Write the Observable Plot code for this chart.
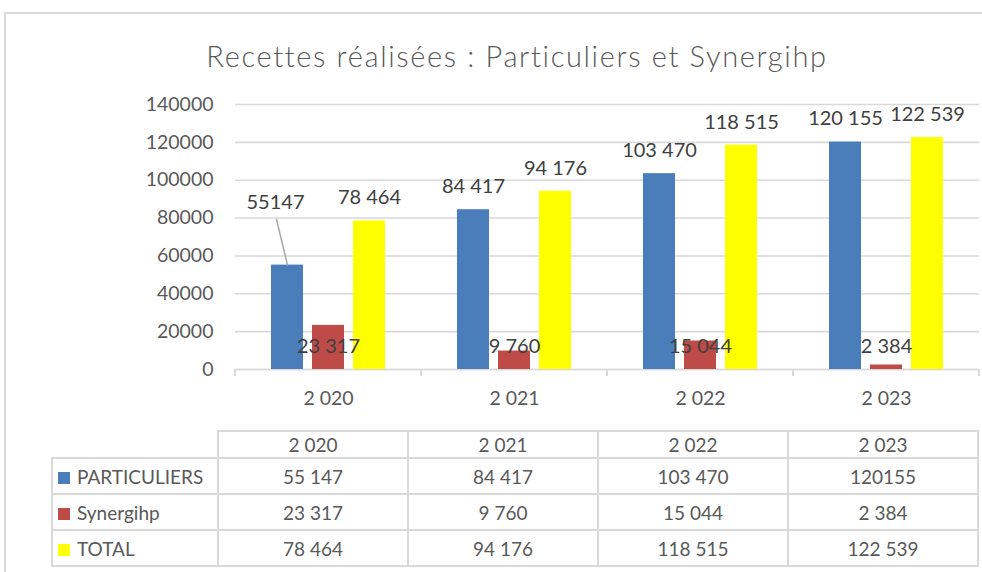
<!DOCTYPE html>
<html>
<head>
<meta charset="utf-8">
<script src="https://cdn.jsdelivr.net/npm/d3@7"></script>
<script src="https://cdn.jsdelivr.net/npm/@observablehq/plot@0.6"></script>
<style>
  html, body { margin: 0; padding: 0; background: #fff; }
  body { width: 982px; height: 572px; position: relative; overflow: hidden; font-family: Lato, "Open Sans", sans-serif; }
  #frame { position: absolute; left: 4px; top: 12px; width: 1000px; height: 600px; border-left: 2px solid #d9d9d9; border-top: 2px solid #d9d9d9; }
  #title { position: absolute; left: 0; top: 41px; width: 1034px; text-align: center; font-size: 29px; line-height: 1; color: #595959; font-weight: 300; letter-spacing: 1.65px; white-space: nowrap; }
  #chart { position: absolute; left: 0; top: 0; }
  #table { position: absolute; left: 51px; top: 430px; border-collapse: collapse; table-layout: fixed; font-size: 19px; color: #595959; }
  #table td { border: 2px solid #d9d9d9; text-align: center; padding: 0; white-space: nowrap; }
  #table td.corner { border: none; }
  #table tr.head td { height: 25px; }
  #table tr.row td { height: 34px; }
  #table td.lab { text-align: left; padding-left: 5px; }
  #table .sw { display: inline-block; width: 12px; height: 12px; margin-right: 7px; vertical-align: 0px; }
</style>
</head>
<body>
<div id="frame"></div>
<div id="title">Recettes réalisées : Particuliers et Synergihp</div>
<div id="chart"></div>
<table id="table"></table>
<script>
// ---- data ----
const years = ["2 020", "2 021", "2 022", "2 023"];
const seriesNames = ["PARTICULIERS", "Synergihp", "TOTAL"];
const seriesColors = ["#4a7ebb", "#be4b48", "#ffff00"];
const particuliers = [55147, 84417, 103470, 120155];
const synergihp = [23317, 9760, 15044, 2384];
const total = [78464, 94176, 118515, 122539];
const particuliersChartLabels = ["55147", "84 417", "103 470", "120 155"];
const particuliersTableLabels = ["55 147", "84 417", "103 470", "120155"];
const yTicks = [0, 20000, 40000, 60000, 80000, 100000, 120000, 140000];

const frFmt = d3.formatLocale({decimal: ",", thousands: "\u2009", grouping: [3], currency: ["", " €"]}).format(",d");
const fr = v => frFmt(v).replace(/\u2009/g, " ");

const valuesBySeries = [particuliers, synergihp, total];
const chartLabelsBySeries = [particuliersChartLabels, synergihp.map(fr), total.map(fr)];
const tableLabelsBySeries = [particuliersTableLabels, synergihp.map(fr), total.map(fr)];

const rows = [];
years.forEach((yr, i) => {
  seriesNames.forEach((s, j) => {
    rows.push({year: yr, series: s, value: valuesBySeries[j][i], label: chartLabelsBySeries[j][i], i, j});
  });
});

const outsideLabels = rows.filter(d => d.series !== "Synergihp" && !(d.series === "PARTICULIERS" && d.i === 0));
const baseLabels = rows.filter(d => d.series === "Synergihp");
const movedLabels = rows.filter(d => d.series === "PARTICULIERS" && d.i === 0);

const leaderShape = {
  draw(context, l) { context.moveTo(0, 0); context.lineTo(0, -l); }
};

const chart = Plot.plot({
  width: 982,
  height: 420,
  marginLeft: 233,
  marginRight: 2,
  marginTop: 104,
  marginBottom: 51,
  style: {fontFamily: "Lato, 'Open Sans', sans-serif", fontSize: "19.5px", color: "#595959", background: "transparent", overflow: "visible"},
  fx: {domain: years, padding: 0, label: null},
  x: {domain: seriesNames, paddingInner: 0.226, paddingOuter: 0.845, axis: null},
  y: {domain: [0, 140000], label: null},
  color: {domain: seriesNames, range: seriesColors},
  marks: [
    Plot.gridY(yTicks, {stroke: "#d9d9d9", strokeOpacity: 1, strokeWidth: 1.6}),
    Plot.ruleY([0], {stroke: "#d9d9d9", strokeWidth: 1.6}),
    Plot.axisY({ticks: yTicks, tickFormat: d3.format("d"), tickSize: 0, tickPadding: 22, label: null}),
    Plot.axisFx({anchor: "bottom", tickSize: 0, tickPadding: 22, label: null}),
    Plot.barY(rows, {fx: "year", x: "series", y: "value", fill: "series"}),
    Plot.text(outsideLabels, {fx: "year", x: "series", y: "value", text: "label", dy: -23, fill: "#404040", fontSize: 20}),
    Plot.text(baseLabels, {fx: "year", x: "series", text: "label", frameAnchor: "bottom", lineAnchor: "middle", dy: -23, fill: "#404040", fontSize: 20}),
    Plot.text(movedLabels, {fx: "year", x: "series", y: "value", text: "label", dy: -63, dx: -12, fill: "#404040", fontSize: 20}),
    Plot.vector(movedLabels, {fx: "year", x: "series", y: "value", length: 47, rotate: -13.5, anchor: "start", shape: leaderShape, stroke: "#a6a6a6", fill: "none", strokeWidth: 1.5})
  ]
});

// category separator ticks under the axis, positioned with the plot's own scales
const fxScale = chart.scale("fx");
const yScale = chart.scale("y");
const y0 = yScale.apply(0);
const bounds = years.map(yr => fxScale.apply(yr)).concat([fxScale.apply(years[years.length - 1]) + fxScale.bandwidth]);
d3.select(chart).append("g")
  .selectAll("line").data(bounds).join("line")
  .attr("x1", d => d).attr("x2", d => d)
  .attr("y1", y0).attr("y2", y0 + 7)
  .attr("stroke", "#d9d9d9").attr("stroke-width", 2);

document.getElementById("chart").appendChild(chart);

// data table
const table = d3.select("#table");
const colgroup = table.append("colgroup");
colgroup.append("col").style("width", "166px");
years.forEach(() => colgroup.append("col").style("width", "190px"));
const head = table.append("tr").attr("class", "head");
head.append("td").attr("class", "corner");
years.forEach(yr => head.append("td").text(yr));
seriesNames.forEach((s, j) => {
  const tr = table.append("tr").attr("class", "row");
  const lab = tr.append("td").attr("class", "lab");
  lab.append("span").attr("class", "sw").style("background", seriesColors[j]);
  lab.append("span").text(s);
  tableLabelsBySeries[j].forEach(v => tr.append("td").text(v));
});
</script>
</body>
</html>
